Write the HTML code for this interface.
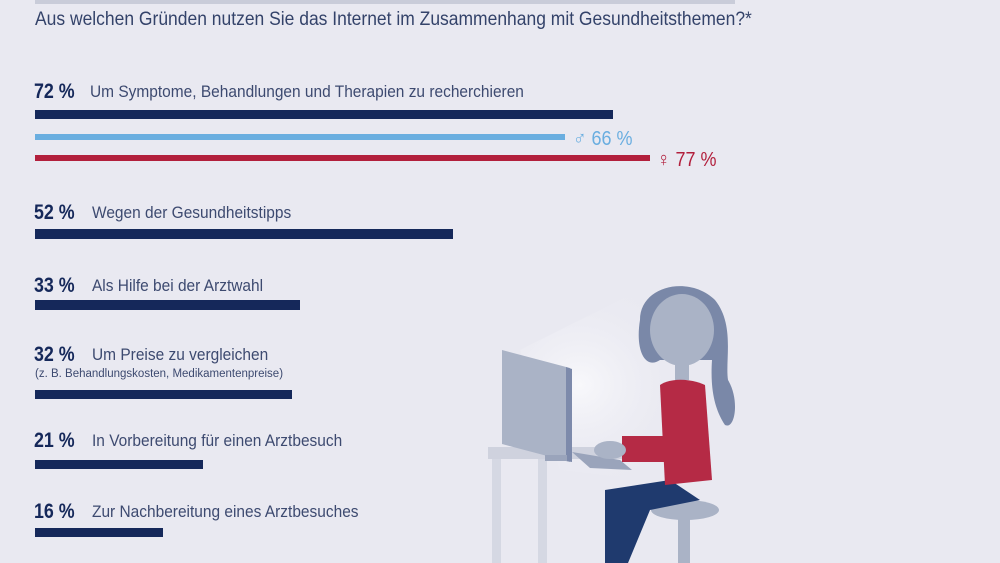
<!DOCTYPE html>
<html><head><meta charset="utf-8"><style>
html,body{margin:0;padding:0;background:#e9e9f1;}
svg{display:block}
text{font-family:"Liberation Sans",sans-serif}
</style></head><body>
<svg width="1000" height="563" viewBox="0 0 1000 563" xmlns="http://www.w3.org/2000/svg">
<defs>
<radialGradient id="glow" cx="0.3" cy="0.5" r="0.6"><stop offset="0" stop-color="#f8f8fb"/><stop offset="1" stop-color="#e9e9f1" stop-opacity="0"/></radialGradient>
</defs>
<rect width="1000" height="563" fill="#e9e9f1"/>
<rect x="35" y="0" width="700" height="4" fill="#c9ccd9"/>
<text x="35" y="25" font-size="19" fill="#34436a" transform="translate(35,0) scale(0.92,1) translate(-35,0)">Aus welchen Gründen nutzen Sie das Internet im Zusammenhang mit Gesundheitsthemen?*</text>

<g fill="#15285a" font-size="21" font-weight="bold">
<text x="34" y="98" transform="translate(34,0) scale(0.85,1) translate(-34,0)">72 %</text>
<text x="34" y="219" transform="translate(34,0) scale(0.85,1) translate(-34,0)">52 %</text>
<text x="34" y="292" transform="translate(34,0) scale(0.85,1) translate(-34,0)">33 %</text>
<text x="34" y="361" transform="translate(34,0) scale(0.85,1) translate(-34,0)">32 %</text>
<text x="34" y="447" transform="translate(34,0) scale(0.85,1) translate(-34,0)">21 %</text>
<text x="34" y="518" transform="translate(34,0) scale(0.85,1) translate(-34,0)">16 %</text>
</g>
<g fill="#3d4a70" font-size="17">
<text x="90" y="97" transform="translate(90,0) scale(0.91,1) translate(-90,0)">Um Symptome, Behandlungen und Therapien zu recherchieren</text>
<text x="92" y="218" transform="translate(92,0) scale(0.91,1) translate(-92,0)">Wegen der Gesundheitstipps</text>
<text x="92" y="291" transform="translate(92,0) scale(0.91,1) translate(-92,0)">Als Hilfe bei der Arztwahl</text>
<text x="92" y="360" transform="translate(92,0) scale(0.91,1) translate(-92,0)">Um Preise zu vergleichen</text>
<text x="35" y="377" font-size="11.5" transform="translate(35,0) scale(1.0,1) translate(-35,0)">(z. B. Behandlungskosten, Medikamentenpreise)</text>
<text x="92" y="446" transform="translate(92,0) scale(0.91,1) translate(-92,0)">In Vorbereitung für einen Arztbesuch</text>
<text x="92" y="517" transform="translate(92,0) scale(0.91,1) translate(-92,0)">Zur Nachbereitung eines Arztbesuches</text>
</g>

<g fill="#15285a">
<rect x="35" y="110" width="578" height="9"/>
<rect x="35" y="229" width="418" height="10"/>
<rect x="35" y="300" width="265" height="10"/>
<rect x="35" y="390" width="257" height="9"/>
<rect x="35" y="460" width="168" height="9"/>
<rect x="35" y="528" width="128" height="9"/>
</g>
<rect x="35" y="134" width="530" height="6" fill="#6aaee0"/>
<text x="573" y="145" font-size="20" fill="#6aaee0" transform="translate(573,0) scale(0.9,1) translate(-573,0)">♂ 66 %</text>
<rect x="35" y="155" width="615" height="6" fill="#b21f3c"/>
<text x="657" y="166" font-size="20" fill="#b21f3c" transform="translate(657,0) scale(0.9,1) translate(-657,0)">♀ 77 %</text>

<!-- illustration -->
<polygon points="520,350 640,290 720,340 640,480 560,470" fill="url(#glow)"/>
<rect x="488" y="447" width="200" height="12" fill="#cfd2de"/>
<rect x="492" y="459" width="9" height="104" fill="#d5d8e3"/>
<rect x="538" y="459" width="9" height="104" fill="#d5d8e3"/>
<polygon points="502,350 570,368 570,462 502,444" fill="#aab3c6"/>
<polygon points="566,367 572,369 572,462 566,461" fill="#7d8aab"/>
<rect x="545" y="455" width="22" height="6" fill="#9aa4bb"/>
<polygon points="572,452 620,460 632,470 590,468" fill="#9aa4bb"/>
<ellipse cx="685" cy="510" rx="34" ry="10" fill="#aab3c6"/>
<rect x="678" y="515" width="12" height="48" fill="#aab3c6"/>
<path d="M605,490 L670,480 L700,500 L650,510 L628,563 L605,563 Z" fill="#1f3a6e"/>
<path d="M640,320 C640,285 690,275 715,300 C735,325 725,360 728,380 C740,400 735,430 725,425 C715,410 710,390 712,360 L660,360 C645,370 635,350 640,320Z" fill="#7a88a8"/>
<ellipse cx="682" cy="330" rx="32" ry="36" fill="#aab3c6"/>
<rect x="675" y="360" width="14" height="20" fill="#aab3c6"/>
<path d="M660,385 C670,378 690,378 705,385 L712,480 L665,485 Z" fill="#b52a45"/>
<rect x="622" y="436" width="60" height="26" fill="#b52a45"/>
<ellipse cx="610" cy="450" rx="16" ry="9" fill="#aab3c6"/>
</svg>
</body></html>
